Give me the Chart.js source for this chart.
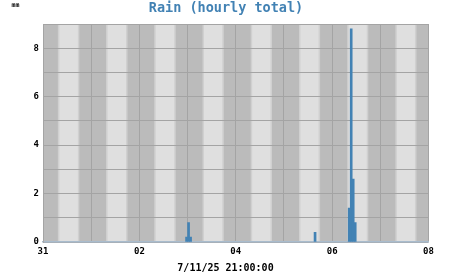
<!DOCTYPE html>
<html>
<head>
<meta charset="utf-8">
<script src="https://cdn.jsdelivr.net/npm/chart.js@4/dist/chart.umd.min.js"></script>
<style>
  html, body { margin: 0; padding: 0; background: #ffffff; }
  #wrap { width: 451px; height: 275px; position: relative; }
</style>
</head>
<body>
<div id="wrap"><canvas id="c" width="451" height="275"></canvas></div>
<script>
// ---- data (hours counted from 31 Oct 00:00) ----
const dayLabels = ['31', '01', '02', '03', '04', '05', '06', '07', '08'];
const rainHours = [71.5, 72.5, 73.5, 135.5, 152.5, 153.5, 154.5, 155.5];
const rainValues = [0.2, 0.8, 0.2, 0.4, 1.4, 8.8, 2.6, 0.8];
const sunriseHours = [7.4, 7.4, 7.4, 7.45, 7.45, 7.5, 7.5, 7.5];
const sunsetHours = [18.1, 18.1, 18.1, 18.05, 18.05, 18.0, 18.0, 18.0];
const titleText = 'Rain (hourly total)';
const unitText = 'mm';
const bottomText = '7/11/25 21:00:00';

const NIGHT = '#bbbbbb', DAY = '#dfdfdf', EDGE = '#d0d0d0';

const dayNight = {
  id: 'dayNight',
  beforeDraw(chart) {
    const { ctx, chartArea: a, scales: { x } } = chart;
    ctx.save();
    ctx.fillStyle = NIGHT;
    ctx.fillRect(a.left, a.top, a.right - a.left, a.bottom - a.top);
    for (let d = 0; d < sunriseHours.length; d++) {
      const x0 = x.getPixelForValue(d * 24 + sunriseHours[d]);
      const x1 = x.getPixelForValue(d * 24 + sunsetHours[d]);
      ctx.fillStyle = EDGE;
      ctx.fillRect(x0, a.top, x1 - x0, a.bottom - a.top);
      ctx.fillStyle = DAY;
      ctx.fillRect(x0 + 1.5, a.top, x1 - x0 - 3, a.bottom - a.top);
    }
    ctx.restore();
  },
  afterDraw(chart) {
    const { ctx } = chart;
    ctx.save();
    ctx.textBaseline = 'middle';
    ctx.textAlign = 'center';
    ctx.fillStyle = '#4282b4';
    ctx.font = 'bold 13.5px "DejaVu Sans Mono"';
    ctx.fillText(titleText, 226, 8.5);
    ctx.fillStyle = '#000000';
    ctx.font = 'bold 6.5px "DejaVu Sans Mono"';
    ctx.fillText(unitText, 15.5, 5.5);
    ctx.font = 'bold 10px "DejaVu Sans Mono"';
    ctx.fillText(bottomText, 225.5, 268);
    ctx.restore();
  }
};

new Chart(document.getElementById('c'), {
  type: 'bar',
  data: {
    datasets: [{
      data: rainHours.map((h, i) => ({ x: h, y: rainValues[i] })),
      backgroundColor: '#4282b4',
      borderWidth: 0,
      barPercentage: 1.0,
      categoryPercentage: 1.0
    }]
  },
  plugins: [dayNight],
  options: {
    responsive: false,
    animation: false,
    devicePixelRatio: 1,
    layout: { padding: { top: 24, right: 22.5, left: 0, bottom: 0 } },
    plugins: { legend: { display: false }, tooltip: { enabled: false }, title: { display: false } },
    scales: {
      x: {
        type: 'linear',
        min: 0, max: 192,
        offset: false,
        afterFit(s) { s.height = 33; },
        ticks: {
          stepSize: 24,
          autoSkip: false,
          maxRotation: 0,
          padding: 4,
          color: '#000000',
          font: { family: 'DejaVu Sans Mono', size: 9, weight: 'bold' },
          callback(v) {
            const i = Math.round(v / 24);
            return i % 2 === 0 ? dayLabels[i] : '';
          }
        },
        grid: { color: '#a4a4a4', lineWidth: 1, drawTicks: false, offset: false },
        border: { color: '#a9bccd', width: 1.5 }
      },
      y: {
        min: 0, max: 9,
        afterFit(s) { s.width = 43; },
        ticks: {
          stepSize: 1,
          padding: 4,
          color: '#000000',
          font: { family: 'DejaVu Sans Mono', size: 9, weight: 'bold' },
          callback(v) { return v % 2 === 0 ? String(v) : ''; }
        },
        grid: { color: '#a4a4a4', lineWidth: 1, drawTicks: false },
        border: { color: '#a4a4a4', width: 1 }
      }
    }
  }
});
</script>
</body>
</html>
